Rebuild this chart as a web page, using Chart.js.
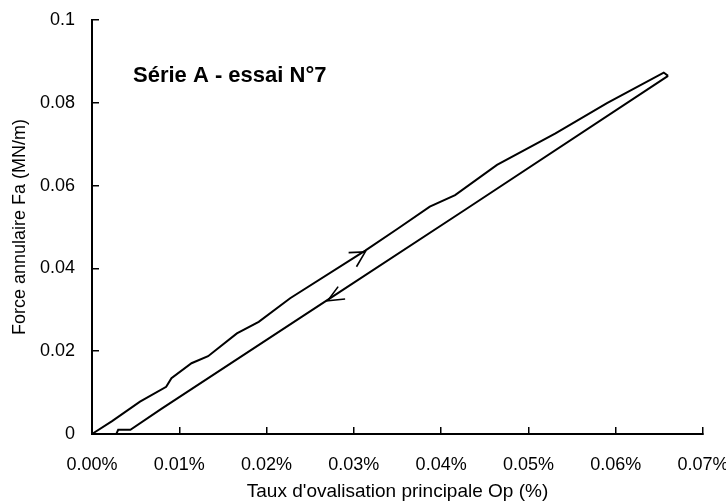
<!DOCTYPE html>
<html>
<head>
<meta charset="utf-8">
<script src="https://cdn.jsdelivr.net/npm/chart.js@4/dist/chart.umd.min.js"></script>
<style>
  html, body { margin: 0; padding: 0; background: #fff; }
  #wrap { width: 726px; height: 501px; }
</style>
</head>
<body>
<div id="wrap"><canvas id="essaiChart" width="726" height="501"></canvas></div>
<script>
// montée en charge (Op en %, Fa en MN/m)
const loadX = [0, 0.0023, 0.0055, 0.0085, 0.0091, 0.0114, 0.0133, 0.0166, 0.0191, 0.0227, 0.0313, 0.0351, 0.0387, 0.0416, 0.0464, 0.0531, 0.0590, 0.0655, 0.0660];
const loadY = [0, 0.0031, 0.0078, 0.0114, 0.0135, 0.0171, 0.0188, 0.0243, 0.0271, 0.0328, 0.0443, 0.0497, 0.0549, 0.0577, 0.0650, 0.0726, 0.0799, 0.0873, 0.0865];

// décharge
const unloadX = [0.0660, 0.0427, 0.0273, 0.0238, 0.0079, 0.0044, 0.0030, 0.0028];
const unloadY = [0.0865, 0.0541, 0.0328, 0.0280, 0.0060, 0.0010, 0.0010, 0.0001];

// pointes de flèche
const arrowUpX = [0.0294, 0.0313, 0.0303];
const arrowUpY = [0.0438, 0.0440, 0.0404];
const arrowDownX = [0.0290, 0.0270, 0.0282];
const arrowDownY = [0.0326, 0.0322, 0.0356];

const xTicks = [0, 0.01, 0.02, 0.03, 0.04, 0.05, 0.06, 0.07];
const yTicks = [0, 0.02, 0.04, 0.06, 0.08, 0.1];

const titleText = 'Série A - essai N°7';
const xTitle = "Taux d'ovalisation principale Op (%)";
const yTitle = 'Force annulaire Fa (MN/m)';

const FONT = '"Liberation Sans", Arial, sans-serif';

const toPoints = (xs, ys) => xs.map((x, i) => ({ x: x, y: ys[i] }));

const lineSet = (xs, ys, width) => ({
    data: toPoints(xs, ys),
    showLine: true,
    borderColor: '#000',
    borderWidth: width,
    pointRadius: 0,
    tension: 0,
    fill: false,
    borderJoinStyle: 'miter',
    clip: false
});

const insideLabel = {
    id: 'insideLabel',
    afterDraw(chart) {
        const { ctx, chartArea } = chart;
        ctx.save();
        ctx.font = 'bold 22px ' + FONT;
        ctx.fillStyle = '#000';
        ctx.textBaseline = 'alphabetic';
        ctx.fillText(titleText, chartArea.left + 41, chartArea.top + 62);
        ctx.restore();
    }
};

const zeroPad = (scale) => {
    scale.paddingLeft = 0;
    scale.paddingRight = 0;
    scale.paddingTop = 0;
    scale.paddingBottom = 0;
};

new Chart(document.getElementById('essaiChart'), {
    type: 'scatter',
    data: {
        datasets: [
            lineSet(loadX, loadY, 2),
            lineSet(unloadX, unloadY, 2),
            lineSet(arrowUpX, arrowUpY, 1.6),
            lineSet(arrowDownX, arrowDownY, 1.6)
        ]
    },
    options: {
        responsive: false,
        animation: false,
        devicePixelRatio: 1,
        layout: { padding: { top: 20, right: 23, left: 0, bottom: 0 } },
        plugins: {
            legend: { display: false },
            tooltip: { enabled: false }
        },
        scales: {
            x: {
                type: 'linear',
                min: 0,
                max: 0.07,
                afterBuildTicks: (scale) => { scale.ticks = xTicks.map(v => ({ value: v })); },
                afterFit: (scale) => { scale.height = 67; zeroPad(scale); },
                ticks: {
                    color: '#000',
                    font: { family: FONT, size: 18 },
                    maxRotation: 0,
                    autoSkip: false,
                    padding: 27,
                    callback: (v) => v.toFixed(2) + '%'
                },
                grid: {
                    drawOnChartArea: false,
                    color: '#000',
                    lineWidth: 1.5,
                    tickLength: -7
                },
                border: { color: '#000', width: 2 },
                title: {
                    display: true,
                    text: xTitle,
                    color: '#000',
                    font: { family: FONT, size: 19, lineHeight: 1 },
                    padding: { top: 0, bottom: 0 }
                }
            },
            y: {
                type: 'linear',
                min: 0,
                max: 0.1,
                afterBuildTicks: (scale) => { scale.ticks = yTicks.map(v => ({ value: v })); },
                afterFit: (scale) => { scale.width = 92; zeroPad(scale); },
                ticks: {
                    color: '#000',
                    font: { family: FONT, size: 18 },
                    autoSkip: false,
                    padding: 24,
                    callback: (v) => String(+v.toFixed(2))
                },
                grid: {
                    drawOnChartArea: false,
                    color: '#000',
                    lineWidth: 1.5,
                    tickLength: -7
                },
                border: { color: '#000', width: 2 },
                title: {
                    display: true,
                    text: yTitle,
                    color: '#000',
                    font: { family: FONT, size: 18, lineHeight: 1 },
                    padding: { top: 11, bottom: 0 }
                }
            }
        }
    },
    plugins: [insideLabel]
});
</script>
</body>
</html>
